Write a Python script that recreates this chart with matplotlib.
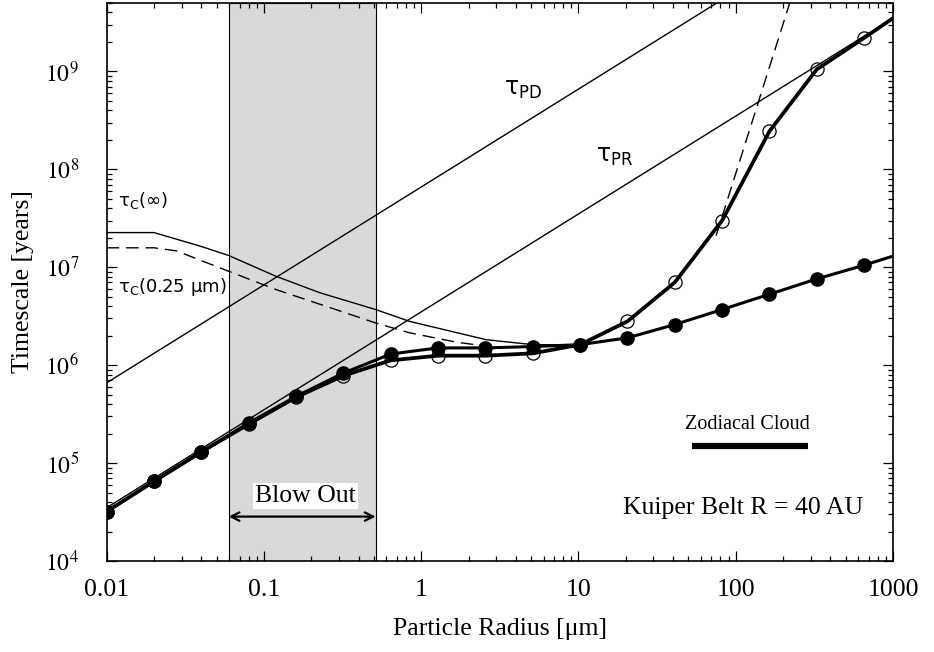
import matplotlib
matplotlib.use("Agg")
import matplotlib.pyplot as plt
from matplotlib.ticker import FixedLocator, LogLocator, NullFormatter

plt.rcParams['font.family'] = ['Liberation Serif', 'DejaVu Serif']
plt.rcParams['mathtext.fontset'] = 'stix'

# ---------------- data ----------------
radius = [0.01, 0.02, 0.04, 0.08, 0.16, 0.32, 0.64, 1.28, 2.56, 5.12, 10.24,
          20.48, 40.96, 81.92, 163.84, 327.68, 655.36]
filled_vals = [3.2e4, 6.5e4, 1.3e5, 2.57e5, 4.8e5, 8.3e5, 1.3e6, 1.5e6, 1.5e6,
               1.55e6, 1.62e6, 1.9e6, 2.6e6, 3.7e6, 5.3e6, 7.6e6, 1.05e7]
open_vals = [3.2e4, 6.5e4, 1.3e5, 2.5e5, 4.7e5, 7.8e5, 1.12e6, 1.25e6, 1.25e6,
             1.32e6, 1.62e6, 2.8e6, 7.0e6, 3.0e7, 2.45e8, 1.05e9, 2.2e9]
curve_end_x = 1000
filled_end = 1.3e7
open_end = 3.5e9

pd_x = [0.01, 1000]
pd_y = [6.6e5, 6.6e10]
pr_x = [0.01, 1000]
pr_y = [3.5e4, 3.5e9]

tc_inf_x = [0.01, 0.02, 0.039, 0.0596, 0.119, 0.226, 0.513, 0.843, 2.59, 5.13, 10.0]
tc_inf_y = [2.26e7, 2.26e7, 1.65e7, 1.32e7, 8.1e6, 5.5e6, 3.7e6, 2.8e6, 1.82e6, 1.62e6, 1.6e6]

tc_025_x = [0.01, 0.02, 0.0278, 0.0596, 0.12, 0.226, 0.513, 0.843, 1.7, 3.0]
tc_025_y = [1.58e7, 1.58e7, 1.47e7, 9.1e6, 5.9e6, 4.2e6, 2.7e6, 2.14e6, 1.71e6, 1.52e6]

steep_x = [75, 240]
steep_y = [2.1e7, 7.7e9]

blowout_min, blowout_max = 0.0596, 0.513
blowout_arrow_y = 2.84e4
zodi_x = [52.5, 289]
zodi_y = [1.5e5, 1.5e5]

xtick_vals = [0.01, 0.1, 1, 10, 100, 1000]
xtick_labels = ['0.01', '0.1', '1', '10', '100', '1000']
ytick_vals = [1e4, 1e5, 1e6, 1e7, 1e8, 1e9]
ytick_labels = [r'$10^{4}$', r'$10^{5}$', r'$10^{6}$', r'$10^{7}$', r'$10^{8}$', r'$10^{9}$']

# ---------------- figure ----------------
fig = plt.figure(figsize=(9.34, 6.52), dpi=100)
ax = fig.add_axes([0.1142, 0.1396, 0.8419, 0.8558])
ax.set_xscale('log')
ax.set_yscale('log')
ax.set_xlim(0.01, 1000)
ax.set_ylim(1e4, 5e9)

ax.axvspan(blowout_min, blowout_max, facecolor='#d9d9d9', edgecolor='k', lw=0.8, zorder=0.5)

thin = dict(color='k', lw=1.0)
ax.plot(pd_x, pd_y, **thin, zorder=2)
ax.plot(pr_x, pr_y, **thin, zorder=2)
ax.plot(tc_inf_x, tc_inf_y, **thin, zorder=2)
ax.plot(tc_025_x, tc_025_y, color='k', lw=1.0, ls=(0, (9, 5)), zorder=2)
ax.plot(steep_x, steep_y, color='k', lw=1.0, ls=(0, (9, 5)), zorder=2)

n = len(radius)
ax.plot(radius + [curve_end_x], open_vals + [open_end], color='k', lw=2.7,
        marker='o', markevery=list(range(n)), ms=9.5, mfc='none', mec='k', mew=0.9, zorder=3)
ax.plot(radius + [curve_end_x], filled_vals + [filled_end], color='k', lw=2.2,
        marker='o', markevery=list(range(n)), ms=9.5, mfc='k', mec='k', zorder=4)

# zodiacal cloud bar
ax.plot(zodi_x, zodi_y, color='k', lw=4.5, solid_capstyle='butt', zorder=3)
ax.text(118, 2.45e5, 'Zodiacal Cloud', fontsize=14.5, ha='center', va='center')

ax.text(112, 3.47e4, 'Kuiper Belt R = 40 AU', fontsize=18.5, ha='center', va='center')

# blow out
ax.annotate('', xy=(blowout_min, blowout_arrow_y), xytext=(blowout_max, blowout_arrow_y),
            arrowprops=dict(arrowstyle='<->,head_length=0.6,head_width=0.3', lw=1.6, color='k',
                            shrinkA=0, shrinkB=0), zorder=5)
ax.text(0.184, 4.6e4, 'Blow Out', fontsize=18.5, ha='center', va='center',
        bbox=dict(facecolor='white', edgecolor='none', pad=1.5), zorder=5)

sans = dict(family='DejaVu Sans', math_fontfamily='dejavusans')
ax.text(3.38, 5.75e8, r'τ$_{\rm PD}$', fontsize=17, ha='left', va='baseline', **sans)
ax.text(13.0, 1.19e8, r'τ$_{\rm PR}$', fontsize=17, ha='left', va='baseline', **sans)
ax.text(0.0118, 4.2e7, r'τ$_{\rm C}$(∞)', fontsize=13, ha='left', va='baseline', **sans)
ax.text(0.0118, 5.53e6, r'τ$_{\rm C}$(0.25 μm)', fontsize=13, ha='left', va='baseline', **sans)

# ticks
ax.xaxis.set_major_locator(FixedLocator(xtick_vals))
ax.set_xticklabels(xtick_labels)
ax.yaxis.set_major_locator(FixedLocator(ytick_vals))
ax.set_yticklabels(ytick_labels)
ax.xaxis.set_minor_locator(LogLocator(base=10, subs=range(2, 10), numticks=20))
ax.yaxis.set_minor_locator(LogLocator(base=10, subs=range(2, 10), numticks=20))
ax.xaxis.set_minor_formatter(NullFormatter())
ax.yaxis.set_minor_formatter(NullFormatter())
ax.tick_params(which='both', direction='in', top=True, right=True, width=0.9, color='k')
ax.tick_params(which='major', length=7.5)
ax.tick_params(which='minor', length=3.5)
ax.tick_params(axis='x', which='major', labelsize=18.5, pad=13)
ax.tick_params(axis='y', which='major', labelsize=17, pad=20)
for s in ax.spines.values():
    s.set_linewidth(1.2)

ax.set_xlabel('Particle Radius [μm]', fontsize=18.5, labelpad=12)
ax.set_ylabel('Timescale [years]', fontsize=18.5, labelpad=8)

fig.savefig('out.png', dpi=100)
